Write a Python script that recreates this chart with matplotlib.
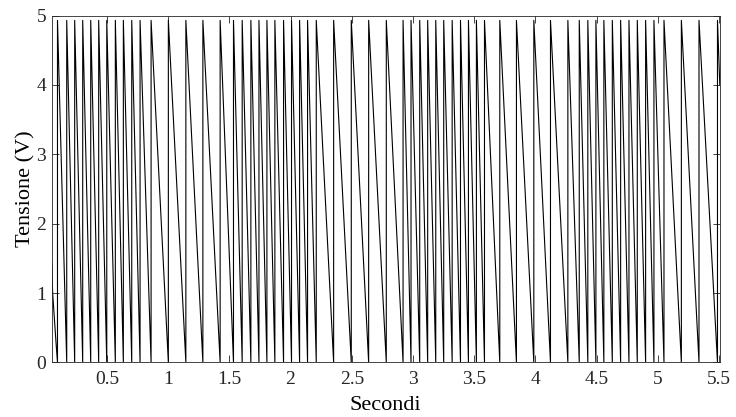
import numpy as np
import matplotlib
matplotlib.use('Agg')
import matplotlib.pyplot as plt

# times (s) where the sawtooth jumps from 0 up to the peak
rise_times = [0.0965, 0.172, 0.237, 0.3025, 0.368, 0.433, 0.499, 0.569, 0.6345, 0.703,
              0.771, 0.861, 1.002, 1.145, 1.284, 1.425, 1.534, 1.605, 1.676, 1.742,
              1.807, 1.872, 1.943, 2.008, 2.074, 2.139, 2.210, 2.352, 2.496, 2.638,
              2.782, 2.919, 2.984, 3.055, 3.120, 3.186, 3.251, 3.320, 3.388, 3.453,
              3.518, 3.584, 3.709, 3.845, 3.987, 4.123, 4.265, 4.358, 4.428, 4.494,
              4.559, 4.628, 4.696, 4.764, 4.832, 4.900, 4.968, 5.050, 5.192, 5.336,
              5.487]
peak_v = 4.93

# tail of the ramp visible before the first jump
start_t = [0.049, 0.057, 0.084]
start_v = [1.45, 1.0, 0.3]
# last sample at the right edge
end_t = 5.506
end_v = 4.0

t = list(start_t)
v = list(start_v)
for tr in rise_times:
    t += [tr, tr]
    v += [0.0, peak_v]
t.append(end_t)
v.append(end_v)

plt.rcParams['font.family'] = ['Liberation Serif', 'DejaVu Serif']

fig = plt.figure(figsize=(7.36, 4.17), dpi=100)
ax = fig.add_axes([0.0702, 0.1307, 0.9078, 0.8321])
ax.plot(t, v, color='black', linewidth=0.8)

ax.set_xlim(start_t[0], end_t)
ax.set_ylim(0, 5)
ax.set_xticks([0.5, 1, 1.5, 2, 2.5, 3, 3.5, 4, 4.5, 5, 5.5])
ax.set_xticklabels(['0.5', '1', '1.5', '2', '2.5', '3', '3.5', '4', '4.5', '5', '5.5'])
ax.set_yticks([0, 1, 2, 3, 4, 5])
ax.tick_params(direction='in', top=True, right=True, length=5, width=0.6,
               labelsize=14, colors='#262626')
ax.tick_params(axis='x', pad=6)
ax.tick_params(axis='y', pad=4)
for s in ax.spines.values():
    s.set_linewidth(0.6)
    s.set_color('#262626')

ax.set_xlabel('Secondi', fontsize=16, labelpad=6)
ax.set_ylabel('Tensione (V)', fontsize=16, labelpad=0.5)

fig.savefig('out.png', dpi=100)
